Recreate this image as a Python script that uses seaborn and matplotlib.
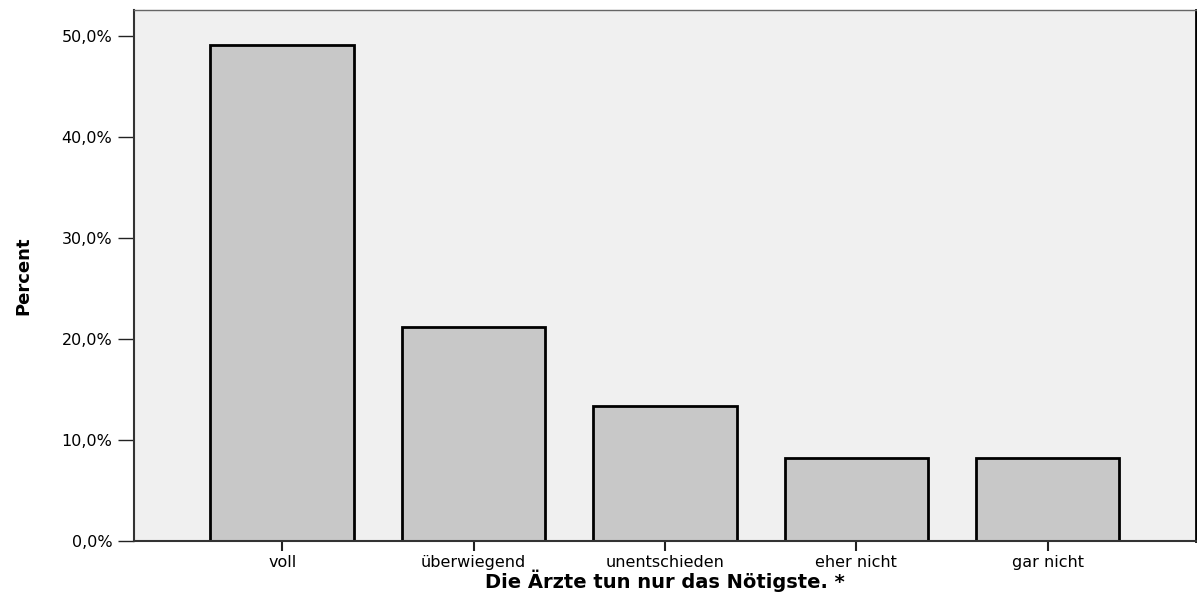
import matplotlib
matplotlib.use('Agg')
import matplotlib.pyplot as plt
import seaborn as sns
import pandas as pd
from matplotlib.ticker import FuncFormatter

# data (percent of respondents)
categories = ['voll', 'überwiegend', 'unentschieden', 'eher nicht', 'gar nicht']
percent = [49.1, 21.2, 13.4, 8.2, 8.2]
y_ticks = [0, 10, 20, 30, 40, 50]

df = pd.DataFrame({'antwort': categories, 'percent': percent})

sns.set_style('white')
plt.rcParams['font.family'] = ['DejaVu Sans']
plt.rcParams['text.color'] = 'black'
plt.rcParams['axes.labelcolor'] = 'black'
plt.rcParams['xtick.color'] = 'black'
plt.rcParams['ytick.color'] = 'black'

fig = plt.figure(figsize=(11.97, 6.02), dpi=100)
ax = fig.add_axes([0.1119, 0.1013, 0.8873, 0.8813])
ax.set_facecolor('#F0F0F0')

sns.barplot(data=df, x='antwort', y='percent', order=categories,
            color='#C8C8C8', saturation=1, edgecolor='black',
            linewidth=2, width=0.75, ax=ax)

ax.set_xlim(-0.775, 4.775)
ax.set_ylim(0, 52.5)
ax.set_yticks(y_ticks)
ax.yaxis.set_major_formatter(FuncFormatter(lambda v, p: f'{v:.1f}%'.replace('.', ',')))

ax.tick_params(axis='y', length=11.5, width=1, pad=4, labelsize=11.5, color='#222222')
ax.tick_params(axis='x', length=7, width=1.5, pad=3, labelsize=11.5, color='#222222')
ax.tick_params(left=True, bottom=True)

ax.set_xlabel('Die Ärzte tun nur das Nötigste. *', fontsize=14, fontweight='bold', labelpad=0)
ax.set_ylabel('Percent', fontsize=13, fontweight='bold',
              family=['Liberation Sans Narrow', 'DejaVu Sans'])
ax.yaxis.set_label_coords(-0.096, 0.5)

for side in ['left', 'bottom']:
    ax.spines[side].set_color('#333333')
    ax.spines[side].set_linewidth(1.5)
ax.spines['top'].set_color('#666666')
ax.spines['top'].set_linewidth(1)
ax.spines['right'].set_color('black')
ax.spines['right'].set_linewidth(2)

fig.savefig('out.png', dpi=100)
plt.close(fig)
